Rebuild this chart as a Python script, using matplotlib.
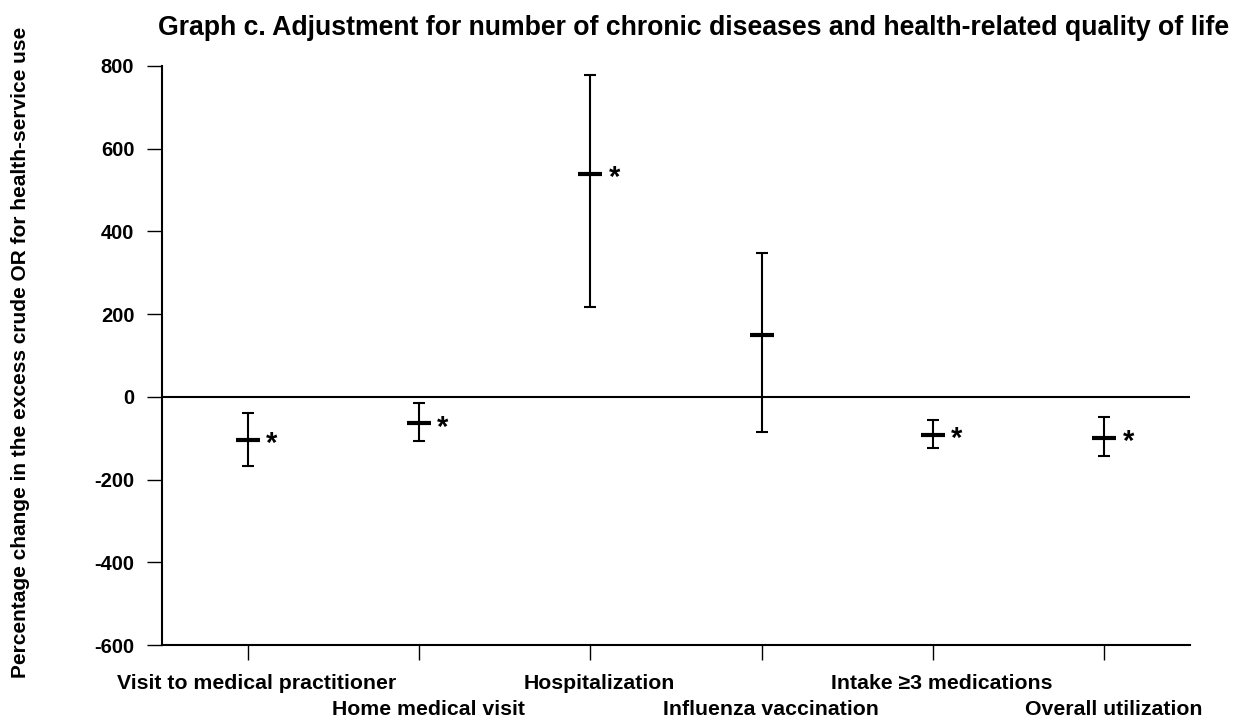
import numpy as np
import matplotlib.pyplot as plt
from matplotlib.transforms import ScaledTranslation

plt.rcParams['font.family'] = ['Liberation Sans', 'DejaVu Sans']
plt.rcParams['font.weight'] = 'bold'
plt.rcParams['axes.unicode_minus'] = False

# Datos
categorias = ['Visit to medical practitioner', 'Home medical visit', 'Hospitalization',
              'Influenza vaccination', 'Intake \u22653 medications', 'Overall utilization']
estimacion = [-104, -64, 539, 149, -92, -100]
ic_inferior = [-167, -106, 218, -84, -123, -142]
ic_superior = [-38, -14, 778, 349, -57, -48]
significativo = [True, True, True, False, True, True]

x = np.arange(len(categorias))
est = np.array(estimacion)
err = [est - np.array(ic_inferior), np.array(ic_superior) - est]

fig = plt.figure(figsize=(12.35, 7.22), dpi=100)
ax = fig.add_axes([0.1312, 0.1066, 0.8324, 0.802])

ax.axhline(0, color='black', lw=1.5, zorder=1)
ax.errorbar(x, est, yerr=err, fmt='none', ecolor='black', elinewidth=1.5,
            capsize=4.5, capthick=1.5, zorder=2)
ax.plot(x, est, ls='none', marker='_', ms=17, mew=3, color='black', zorder=3)

# asteriscos de significación
for xi, yi, sig in zip(x, est, significativo):
    if sig:
        ax.annotate('*', (xi, yi), xytext=(13, -3), textcoords='offset points',
                    fontsize=21, fontweight='bold', va='center', ha='left')

ax.set_xlim(-0.5, 5.5)
ax.set_ylim(-600, 800)
ax.set_yticks(np.arange(-600, 801, 200))
ax.set_xticks(x)
ax.set_xticklabels([])

# etiquetas del eje x en dos filas alternas (algo desplazadas a la derecha)
desplaz = ScaledTranslation(9 / 100, 0, fig.dpi_scale_trans)
for i, lab in enumerate(categorias):
    yy = -0.0656 if i % 2 == 0 else -0.112
    ax.text(i, yy, lab, transform=ax.get_xaxis_transform() + desplaz,
            ha='center', va='center', fontsize=15.3, fontweight='bold')

ax.spines['top'].set_visible(False)
ax.spines['right'].set_visible(False)
ax.spines['left'].set_linewidth(1.5)
ax.spines['bottom'].set_linewidth(1.5)
ax.tick_params(axis='y', length=11, width=1, labelsize=14.5, pad=9)
ax.tick_params(axis='x', length=11, width=1)
for lab in ax.get_yticklabels():
    lab.set_fontweight('bold')

fig.text(0.017, 0.512, 'Percentage change in the excess crude OR for health-service use',
         rotation=90, ha='center', va='center', fontsize=15, fontweight='bold')
fig.text(0.995, 0.9515, 'Graph c. Adjustment for number of chronic diseases and health-related quality of life',
         ha='right', va='baseline', fontsize=19.2, fontweight='bold')

fig.savefig('out.png', dpi=100)
